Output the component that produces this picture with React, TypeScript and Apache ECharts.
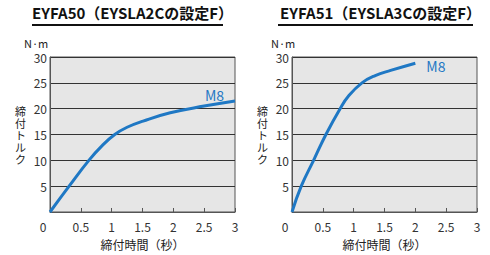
import React, { useEffect, useRef } from "react";
import * as echarts from "echarts";

const titles = ["EYFA50（EYSLA2Cの設定F）", "EYFA51（EYSLA3Cの設定F）"];
const yUnit = "N·m";
const yName = "締付トルク";
const xName = "締付時間（秒）";
const seriesName = "M8";
const xTicks = [0, 0.5, 1, 1.5, 2, 2.5, 3];
const yTicks = [0, 5, 10, 15, 20, 25, 30];

const timeA = [0, 0.31, 0.63, 0.85, 1.05, 1.25, 1.51, 1.95, 2.5, 3.0];
const torqueA = [0, 5, 10, 12.9, 15, 16.4, 17.6, 19.2, 20.5, 21.5];
const timeB = [0, 0.15, 0.35, 0.55, 0.78, 0.92, 1.135, 1.35, 1.6, 2.0];
const torqueB = [0, 5, 10, 15, 20, 22.5, 25, 26.4, 27.4, 28.8];

const FONT = "'Noto Sans CJK JP', 'Noto Sans', sans-serif";
const BLUE = "#1f78c4";

export default function App() {
  const ref = useRef<HTMLDivElement>(null);
  useEffect(() => {
    const chart = echarts.init(ref.current!, undefined, { renderer: "svg" });
    const lefts = [50, 292];
    const grids = lefts.map((l) => ({
      left: l,
      top: 57,
      width: 185,
      height: 156,
      show: true,
      backgroundColor: "#e6e6e6",
      borderColor: "#555",
      borderWidth: 1,
    }));
    const xAxes = [0, 1].map((i) => ({
      type: "value",
      gridIndex: i,
      min: xTicks[0],
      max: xTicks[xTicks.length - 1],
      interval: 0.5,
      name: xName,
      nameLocation: "middle",
      nameGap: 26,
      nameTextStyle: { fontFamily: FONT, fontSize: 12, color: "#222" },
      axisLine: { show: true, lineStyle: { color: "#555" } },
      axisTick: { show: true, inside: true, length: 4, lineStyle: { color: "#555" } },
      splitLine: { show: false },
      axisLabel: {
        margin: 8,
        fontFamily: FONT,
        fontSize: 12,
        color: "#333",
        formatter: (v: number) => (v === 0 ? "{z|0}" : String(v)),
        rich: { z: { padding: [0, 14, 0, 0], fontFamily: FONT, fontSize: 12, color: "#333" } },
      },
    }));
    const yAxes = [0, 1].map((i) => ({
      type: "value",
      gridIndex: i,
      min: yTicks[0],
      max: yTicks[yTicks.length - 1],
      interval: 5,
      name: yName.split("").join("\n"),
      nameLocation: "middle",
      nameGap: 24,
      nameRotate: 0,
      nameTextStyle: { fontFamily: FONT, fontSize: 11, color: "#222", lineHeight: 12 },
      axisLine: { show: true, lineStyle: { color: "#555" } },
      axisTick: { show: false },
      splitLine: { show: true, lineStyle: { color: "#333", width: 1 } },
      axisLabel: {
        margin: 3,
        fontFamily: FONT,
        fontSize: 12,
        color: "#333",
        formatter: (v: number) => (v === 0 ? "" : String(v)),
      },
    }));
    const mk = (xs: number[], ys: number[], i: number, offset: number[]) => ({
      type: "line",
      name: seriesName,
      xAxisIndex: i,
      yAxisIndex: i,
      data: xs.map((x, k) => [x, ys[k]]),
      smooth: 0.45,
      showSymbol: false,
      lineStyle: { color: BLUE, width: 3 },
      itemStyle: { color: BLUE },
      endLabel: {
        show: true,
        formatter: seriesName,
        color: BLUE,
        fontFamily: FONT,
        fontSize: 14,
        offset,
      },
    });
    chart.setOption({
      animation: false,
      grid: grids,
      xAxis: xAxes,
      yAxis: yAxes,
      series: [mk(timeA, torqueA, 0, [-38, -6]), mk(timeB, torqueB, 1, [3, 3])],
      graphic: [
        { type: "text", left: 32, top: 5, style: { text: titles[0], font: `bold 15px ${FONT}`, fill: "#111" } },
        { type: "text", left: 280, top: 5, style: { text: titles[1], font: `bold 15px ${FONT}`, fill: "#111" } },
        { type: "line", shape: { x1: 32, y1: 25, x2: 223, y2: 25 }, style: { stroke: "#111", lineWidth: 2 } },
        { type: "line", shape: { x1: 278, y1: 25, x2: 473, y2: 25 }, style: { stroke: "#111", lineWidth: 2 } },
        { type: "text", left: 24, top: 37, style: { text: yUnit, font: `11px ${FONT}`, fill: "#222" } },
        { type: "text", left: 271, top: 37, style: { text: yUnit, font: `11px ${FONT}`, fill: "#222" } },
      ],
    });
    return () => chart.dispose();
  }, []);
  return <div ref={ref} style={{ position: "absolute", left: 0, top: 0, width: 490, height: 255 }} />;
}
